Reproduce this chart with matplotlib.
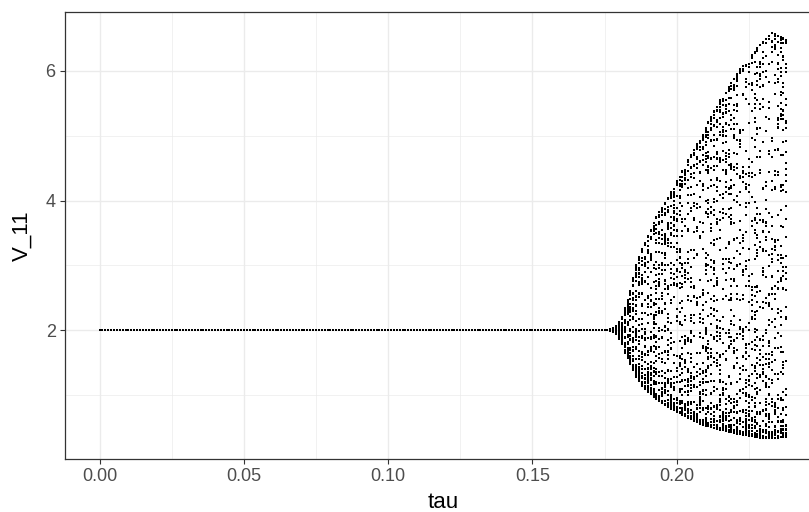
import numpy as np
import matplotlib
matplotlib.use("Agg")
from matplotlib import pyplot as plt

plt.rcParams['font.family'] = ['Liberation Sans', 'DejaVu Sans']

# values
tau_step = 0.001
tau_last = 0.238
steady_v = 2.0
n_samples = 55

# band of the oscillation after the bifurcation: tau, max V_11, min V_11
env_tau = [0.1765, 0.1790, 0.1810, 0.1820, 0.1838, 0.1862, 0.1883, 0.1924,
           0.1966, 0.2011, 0.2080, 0.2150, 0.2219, 0.2288, 0.2330, 0.2382]
env_upper = [2.00, 2.06, 2.20, 2.34, 2.57, 3.04, 3.28, 3.70,
             4.01, 4.39, 4.95, 5.55, 6.02, 6.40, 6.59, 6.48]
env_lower = [2.00, 1.94, 1.79, 1.65, 1.49, 1.26, 1.12, 0.95,
             0.82, 0.71, 0.55, 0.46, 0.39, 0.34, 0.33, 0.35]

x_ticks = [0.00, 0.05, 0.10, 0.15, 0.20]
y_ticks = [2, 4, 6]

# one column of points per tau value
taus = np.round(np.arange(0, tau_last + tau_step / 2, tau_step), 3)
k = np.arange(n_samples)
pts_t, pts_v = [], []
for tau in taus:
    if tau < env_tau[0]:
        pts_t.append(tau)
        pts_v.append(steady_v)
        continue
    hi = np.interp(tau, env_tau, env_upper)
    lo = np.interp(tau, env_tau, env_lower)
    # points sampled along the cycle, the trajectory lingers near its minimum
    phase = (k * (0.618 + 2.5 * tau) + k**2 * 0.0731) % 1.0
    w = ((1 - np.cos(2 * np.pi * phase)) / 2) ** 1.8
    pts_t.extend([tau] * n_samples)
    pts_v.extend(lo + (hi - lo) * w)

fig = plt.figure(figsize=(8.09, 5.12), dpi=100)
ax = fig.add_axes([64.5 / 809, 1 - 459 / 512, 757 / 809, 447 / 512])
ax.plot(pts_t, pts_v, 's', ms=1.6, mew=0, color='black')

ax.set_xlim(-0.01216, 0.2502)
ax.set_ylim(0.008, 6.911)
ax.set_xticks(x_ticks)
ax.set_xticklabels(['{:.2f}'.format(t) for t in x_ticks])
ax.set_yticks(y_ticks)
ax.set_xticks([0.025, 0.075, 0.125, 0.175, 0.225], minor=True)
ax.set_yticks([1, 3, 5], minor=True)
ax.grid(which='major', color='#EBEBEB', lw=1.0)
ax.grid(which='minor', color='#EBEBEB', lw=0.5)
ax.set_axisbelow(True)

for sp in ax.spines.values():
    sp.set_color('#333333')
    sp.set_linewidth(0.9)
ax.tick_params(which='major', direction='out', length=3.3, width=0.8,
               color='#333333', labelcolor='#4D4D4D', labelsize=13, pad=3)
ax.tick_params(which='minor', length=0)

ax.set_xlabel('tau', fontsize=16)
ax.set_ylabel('V_11', fontsize=16)
ax.xaxis.set_label_coords(0.5, (459 - 503) / 447)
ax.xaxis.label.set_va('center')
ax.yaxis.set_label_coords((22 - 64.5) / 757, 0.5)
ax.yaxis.label.set_va('center')

fig.savefig('out.png', dpi=100)
